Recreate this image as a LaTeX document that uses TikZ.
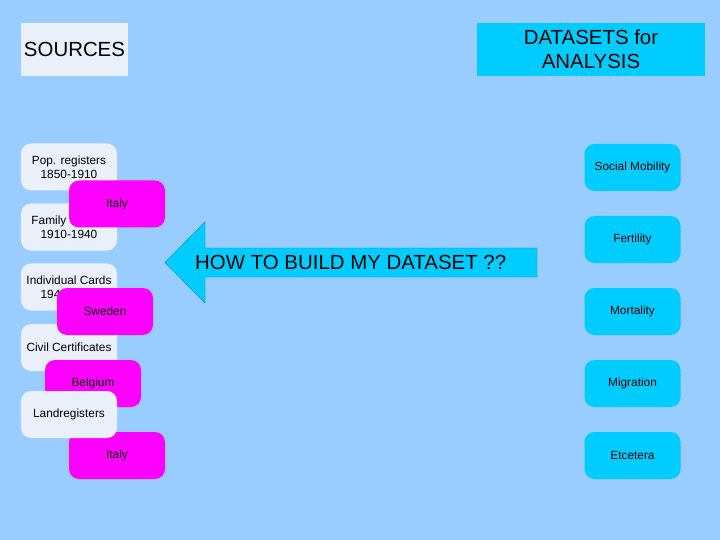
\documentclass[tikz,border=0pt]{standalone}
\usepackage{fontspec}
\setmainfont{Liberation Sans}
\definecolor{bgblue}{HTML}{99CCFF}
\definecolor{paleblue}{HTML}{EAF0FA}
\definecolor{pink}{HTML}{FF00FF}
\definecolor{skyblue}{HTML}{00CCFF}
\tikzset{
	title/.style={inner sep=0pt, minimum height=53bp, align=center, font=\fontsize{20.5}{24}\selectfont},
	box/.style={rounded corners=10bp, minimum width=96bp, minimum height=47bp, inner sep=0pt, align=center, font=\fontsize{11.9}{14}\selectfont},
	source/.style={box, fill=paleblue},
	country/.style={box, fill=pink},
	dataset/.style={box, fill=skyblue}
}
\begin{document}
\begin{tikzpicture}[x=1bp, y=-1bp]
	\fill[bgblue] (0,0) rectangle (720,540);
	
	\node[title, fill=paleblue, minimum width=107bp] (sources) at (74.5,49.5){SOURCES};
	\node[title, fill=skyblue, minimum width=228bp] (datasets) at (591,49.5){DATASETS for\\ANALYSIS};
	
	% sources and countries
	\node[source] (pop) at (69,167){Pop. registers\\1850-1910};
	\node[source] (family) at (69,227){Family\hphantom{ Sheets}\\1910-1940};
	\node[source] (cards) at (69,287){Individual Cards\\1940\hphantom{-1960}};
	\node[source] (civil) at (69,347.5){Civil Certificates};
	
	\node[country] (italy1) at (117,204){Italy};
	\node[country] (sweden) at (105,311.5){Sweden};
	\node[country] (belgium) at (93,383.5){Belgium};
	\node[country] (italy2) at (117,455.5){Italy};
	\node[source] (land) at (69,414.5){Landregisters};
	
	% datasets
	\node[dataset] (mobility) at (632.5,167.5){Social Mobility};
	\node[dataset] (fertility) at (632.5,239.5){Fertility};
	\node[dataset] (mortality) at (632.5,311.5){Mortality};
	\node[dataset] (migration) at (632.5,383.5){Migration};
	\node[dataset] (etcetera) at (632.5,455.5){Etcetera};
	
	% big arrow
	\draw[fill=skyblue, draw=skyblue!70!black, line width=0.4bp] (165,262.5) -- (205,222) -- (205,248) -- (537,248) -- (537,277) -- (205,277) -- (205,303) -- cycle;
	\node[right, inner sep=0pt, font=\fontsize{20.5}{24}\selectfont] (question) at (195,262.5){HOW TO BUILD MY DATASET ??};
\end{tikzpicture}
\end{document}
